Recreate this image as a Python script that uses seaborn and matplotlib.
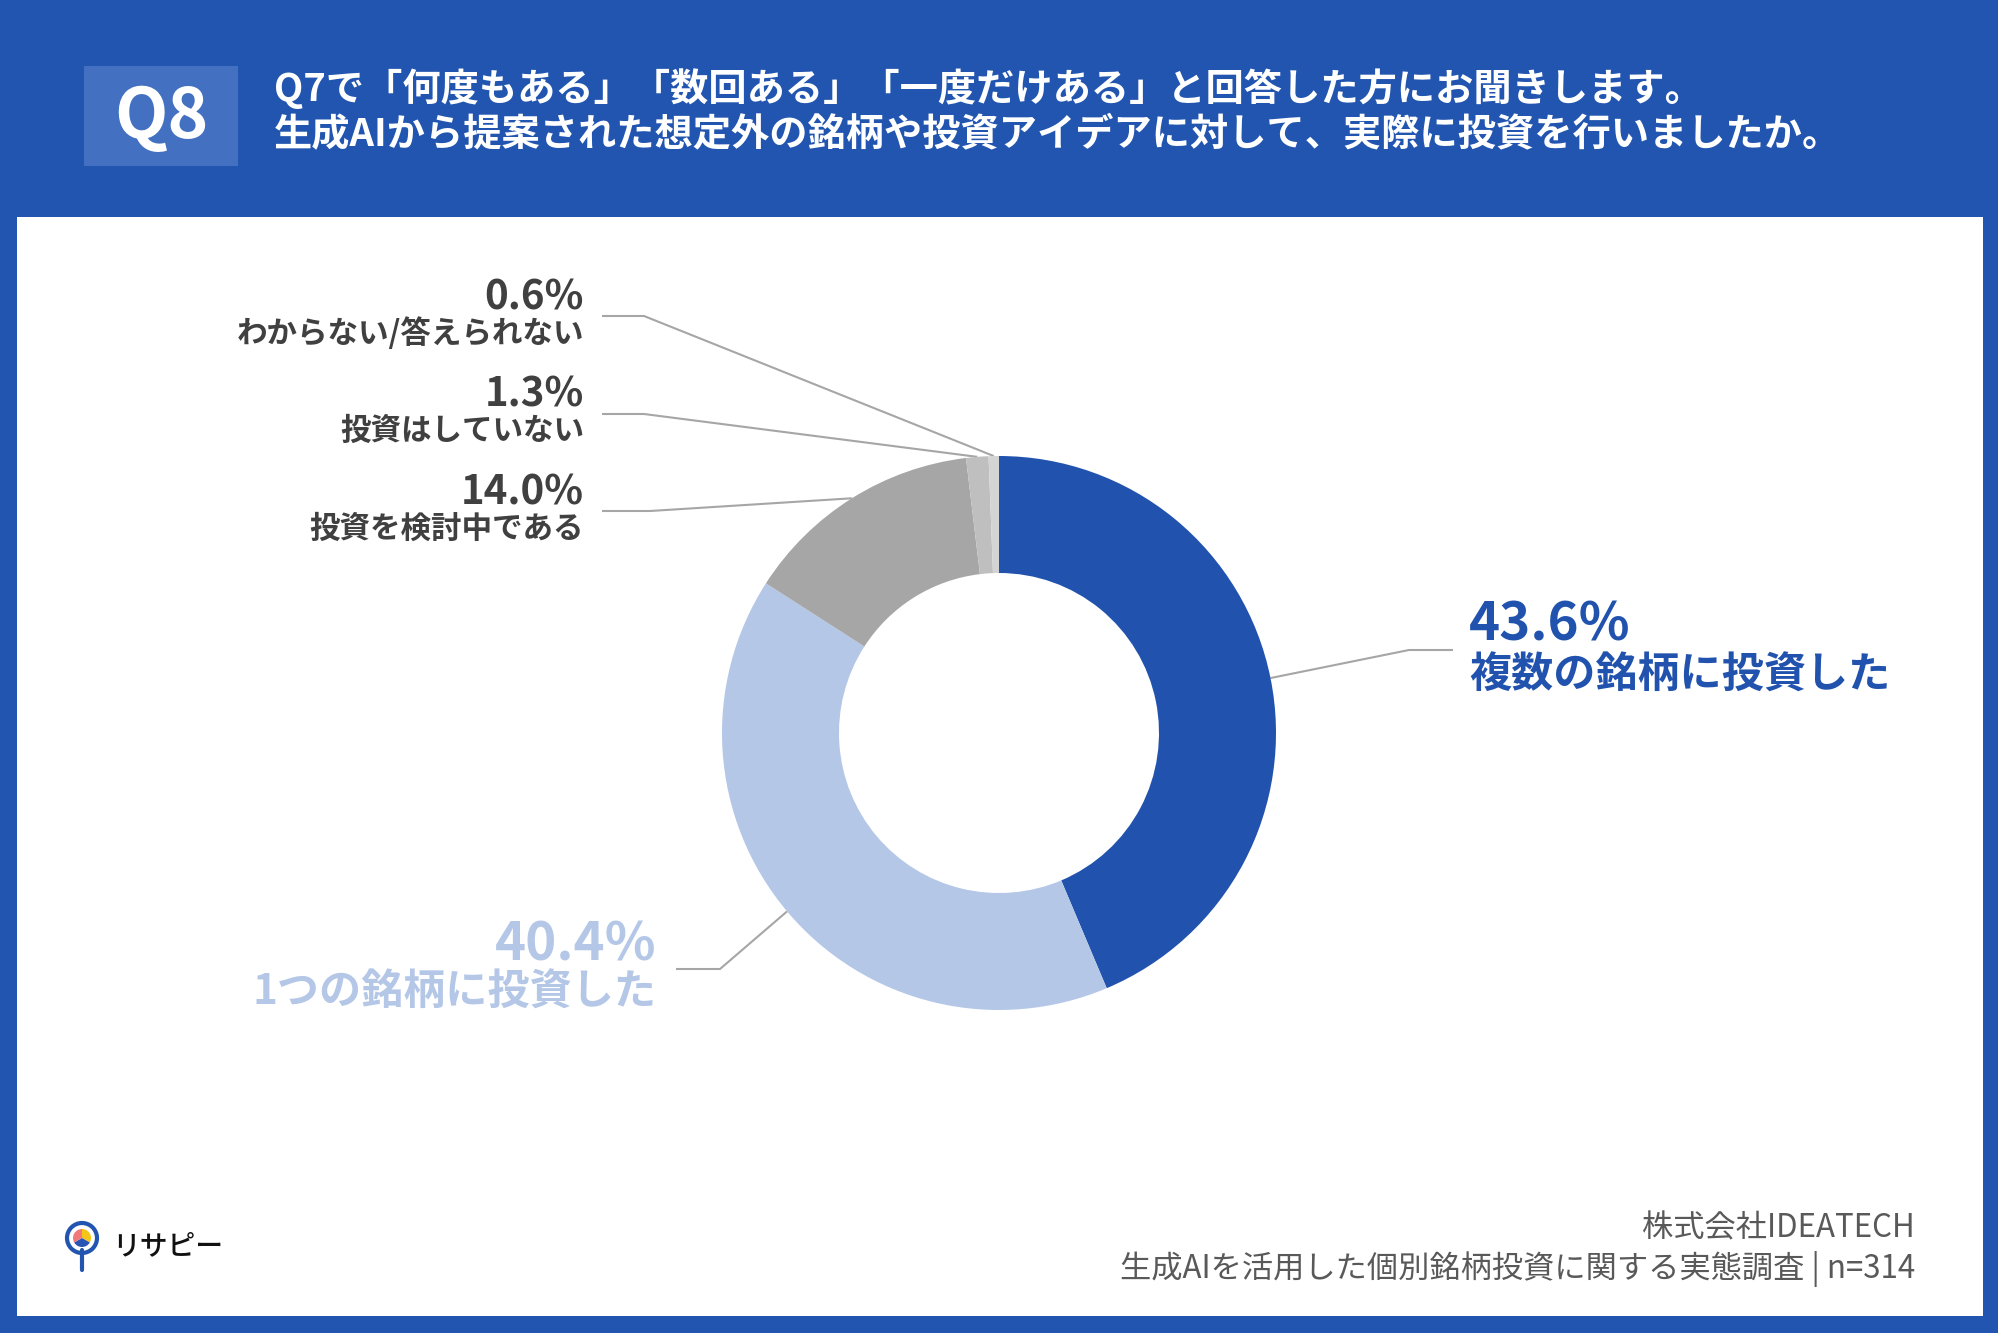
import numpy as np
import matplotlib
matplotlib.use("Agg")
import matplotlib.pyplot as plt
from matplotlib.patches import Rectangle, Circle, Wedge
import seaborn as sns

# ----------------------
# Q8 donut chart (生成AI 個別銘柄投資 調査)
# ----------------------

labels = ["複数の銘柄に投資した", "1つの銘柄に投資した", "投資を検討中である",
          "投資はしていない", "わからない/答えられない"]
values = [43.6, 40.4, 14.0, 1.3, 0.6]
slice_colors = ["#2153ae", "#b4c7e7", "#a6a6a6", "#bfbfbf", "#d4d4d4"]
text_colors = ["#2153ae", "#b4c7e7", "#404040", "#404040", "#404040"]

title_lines = ["Q7で「何度もある」「数回ある」「一度だけある」と回答した方にお聞きします。",
               "生成AIから提案された想定外の銘柄や投資アイデアに対して、実際に投資を行いましたか。"]
source_lines = ["株式会社IDEATECH", "生成AIを活用した個別銘柄投資に関する実態調査 | n=314"]

sns.set_theme(style="white")
plt.rcParams['font.family'] = ['Noto Sans CJK JP', 'DejaVu Sans']

W, H = 1999, 1333
BLUE = "#2155b0"
fig = plt.figure(figsize=(W / 100, H / 100), dpi=100)
fig.patch.set_facecolor(BLUE)

# background axes in pixel coordinates (y down)
bg = fig.add_axes([0, 0, 1, 1])
bg.set_xlim(0, W)
bg.set_ylim(H, 0)
bg.axis("off")
bg.add_patch(Rectangle((17, 217), 1966, 1099, facecolor="white", edgecolor="none"))

# header
bg.add_patch(Rectangle((84, 66), 154, 100, facecolor="#4470c2", edgecolor="none"))
bg.text(161, 118, "Q8", color="white", fontsize=50, fontweight="bold",
        ha="center", va="center")
bg.text(274, 89, title_lines[0], color="white", fontsize=27.5, fontweight="bold",
        ha="left", va="center")
bg.text(274, 135, title_lines[1], color="white", fontsize=27.5, fontweight="bold",
        ha="left", va="center")

# donut
cx, cy, R, r_in = 999, 733, 277, 160
ax = fig.add_axes([(cx - R) / W, (H - cy - R) / H, 2 * R / W, 2 * R / H])
wedges, _ = ax.pie(values, colors=slice_colors, startangle=90, counterclock=False,
                   radius=1, wedgeprops=dict(width=(R - r_in) / R, edgecolor="none"))
ax.set_xlim(-1, 1)
ax.set_ylim(-1, 1)
ax.axis("off")

# label layout: (elbow x, line y, end x, text x, value y, name y, ha, value size, name size)
layout = [
    (1409, 650, 1453, 1469, 625, 676, "left", 38, 30.3),
    (720, 969, 676, 657, 945, 993, "right", 38, 30.3),
    (650, 511, 602, 584, 493, 529, "right", 29, 22),
    (644, 414, 602, 584, 395, 431, "right", 29, 22),
    (644, 316, 602, 584, 298, 334, "right", 29, 22),
]

for w, lab, val, tc, lay in zip(wedges, labels, values, text_colors, layout):
    ex, ly, endx, tx, vy, ny, ha, vs, ns = lay
    mid = np.deg2rad((w.theta1 + w.theta2) / 2)
    sx = cx + R * np.cos(mid)
    sy = cy - R * np.sin(mid)
    bg.plot([sx, ex, endx], [sy, ly, ly], color="#a6a6a6", lw=1.5,
            solid_capstyle="butt")
    bg.text(tx, vy, f"{val:.1f}%", color=tc, fontsize=vs, fontweight="bold",
            ha=ha, va="center")
    bg.text(tx, ny, lab, color=tc, fontsize=ns, fontweight="bold",
            ha=ha, va="center")

# footer source
bg.text(1915, 1228, source_lines[0], color="#595959", fontsize=22.5, ha="right", va="center")
bg.text(1915, 1269, source_lines[1], color="#595959", fontsize=22.5, ha="right", va="center")

# logo
bg.plot([82, 82], [1250, 1270], color="#2155b0", lw=3, solid_capstyle="round")
bg.add_patch(Circle((82, 1238), 15, facecolor="white", edgecolor="#2155b0", lw=3))
bg.add_patch(Wedge((82, 1238), 9, -90, 30, facecolor="#f5c518", edgecolor="none"))
bg.add_patch(Wedge((82, 1238), 9, 30, 150, facecolor="#2a55b5", edgecolor="none"))
bg.add_patch(Wedge((82, 1238), 9, 150, 270, facecolor="#f07a7a", edgecolor="none"))
bg.text(112, 1246, "リサピー", color="#111111", fontsize=20, fontweight="medium",
        ha="left", va="center")

fig.savefig("out.png", dpi=100, facecolor=BLUE)
